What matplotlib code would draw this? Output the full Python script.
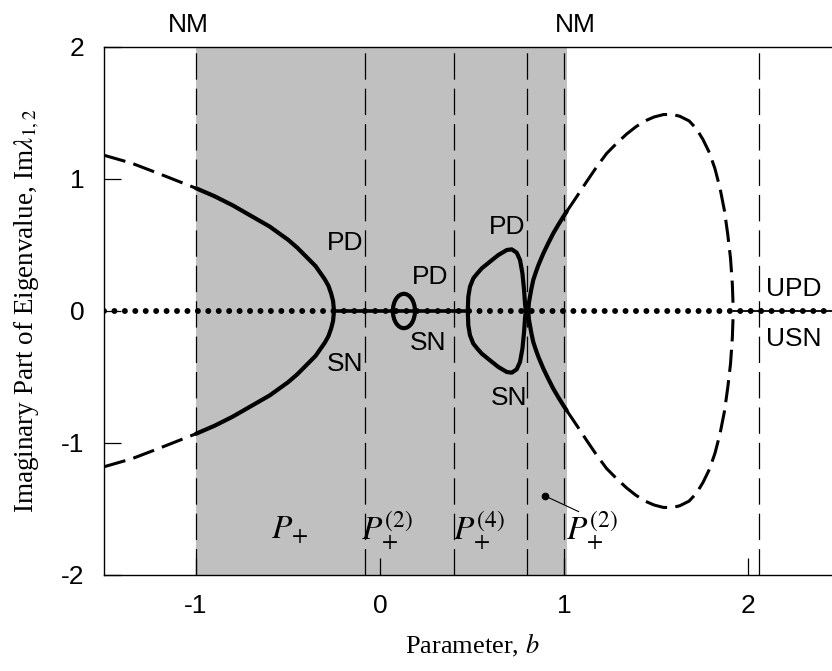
import matplotlib

matplotlib.use("Agg")
import matplotlib.pyplot as plt
from matplotlib.patches import Ellipse
import numpy as np

plt.rcParams.update(
    {
        "font.family": ["Liberation Sans", "DejaVu Sans"],
        "mathtext.fontset": "stix",
        "axes.unicode_minus": False,
        "lines.scale_dashes": False,
        "lines.solid_capstyle": "round",
    }
)

# left branch (upper half), mirrored for the lower half
left_x = [-1.5, -1.35, -1.2, -1.1, -1.0, -0.9, -0.8, -0.7, -0.6, -0.5, -0.45, -0.4, -0.35, -0.32, -0.3, -0.28, -0.265, -0.255, -0.25]
left_y = [1.18, 1.12, 1.04, 0.985, 0.93, 0.87, 0.80, 0.72, 0.64, 0.54, 0.48, 0.41, 0.34, 0.28, 0.24, 0.19, 0.13, 0.075, 0.0]

# small closed loop around b ~ 0.13
ring_center = (0.13, 0.0)
ring_size = (0.12, 0.26)

# P+^(4) loop, upper half
loop_x = [0.477, 0.480, 0.489, 0.507, 0.529, 0.553, 0.598, 0.643, 0.689, 0.716, 0.743, 0.761, 0.774, 0.783, 0.788, 0.792]
loop_y = [0.0, 0.109, 0.184, 0.247, 0.285, 0.323, 0.374, 0.424, 0.462, 0.467, 0.442, 0.386, 0.285, 0.159, 0.058, 0.0]

# right branch: solid part inside the shaded band, dashed afterwards
right_x = [0.806, 0.809, 0.815, 0.823, 0.833, 0.846, 0.861, 0.888, 0.915, 0.942, 0.969, 0.996, 1.014]
right_y = [0.0, 0.06, 0.109, 0.17, 0.235, 0.29, 0.348, 0.437, 0.515, 0.589, 0.653, 0.714, 0.752]
outer_x = [1.014, 1.069, 1.123, 1.178, 1.232, 1.286, 1.34, 1.39, 1.44, 1.49, 1.54, 1.587, 1.63, 1.68, 1.72, 1.755, 1.79, 1.82, 1.848, 1.872, 1.89, 1.905, 1.915, 1.92]
outer_y = [0.752, 0.866, 0.98, 1.093, 1.194, 1.27, 1.34, 1.395, 1.44, 1.47, 1.488, 1.49, 1.475, 1.44, 1.38, 1.30, 1.20, 1.08, 0.93, 0.76, 0.58, 0.40, 0.20, 0.0]

region_edges = [-1.0, 1.015]
boundaries = [-1.0, -0.08, 0.4, 0.8, 1.0, 2.058]
x_ticks = [-1, 0, 1, 2]
y_ticks = [-2, -1, 0, 1, 2]

point_labels = [
    ("PD", -0.19, 0.515), ("SN", -0.19, -0.40),
    ("PD", 0.272, 0.26), ("SN", 0.263, -0.245),
    ("PD", 0.689, 0.634), ("SN", 0.70, -0.66),
    ("UPD", 2.25, 0.17), ("USN", 2.25, -0.21),
]
top_labels = [("NM", -1.04), ("NM", 1.06)]
region_labels = [
    (r"$P_{+}$", -0.49),
    (r"$P_{+}^{(2)}$", 0.04),
    (r"$P_{+}^{(4)}$", 0.54),
    (r"$P_{+}^{(2)}$", 1.15),
]
marker_pt = (0.895, -1.4)

fig = plt.figure(figsize=(8.32, 6.71), dpi=100)
ax = fig.add_axes([104 / 832, 96 / 671, 736 / 832, 528 / 671])
ax.set_xlim(-1.5, 2.5)
ax.set_ylim(-2, 2)

ax.axvspan(*region_edges, color="#c0c0c0", lw=0, zorder=0)
for b in boundaries:
    ax.axvline(b, color="black", lw=0.9, linestyle=(0, (19, 6.5)), zorder=1)

lx = np.array(left_x)
ly = np.array(left_y)
loop_x = np.array(loop_x)
loop_y = np.array(loop_y)
right_x = np.array(right_x)
right_y = np.array(right_y)
outer_x = np.array(outer_x)
outer_y = np.array(outer_y)

solid = dict(color="black", lw=3.0, zorder=4, solid_joinstyle="round")
dashed = dict(color="black", lw=2.2, zorder=4, linestyle=(0, (16, 6)))

# real axis: dots everywhere, solid stretches where the orbit is stable
ax.plot([-1.5, 2.5], [0, 0], color="black", lw=4.3, linestyle=(0, (0.01, 7.5)),
        dash_capstyle="round", zorder=3)
ax.plot([-0.25, 0.477], [0, 0], color="black", lw=2.6, zorder=3)
ax.plot([1.92, 2.5], [0, 0], color="black", lw=1.3, zorder=3)

d = lx <= -1.0
for sgn in (1, -1):
    ax.plot(lx[d], sgn * ly[d], **dashed)
    ax.plot(lx[lx >= -1.0], sgn * ly[lx >= -1.0], **solid)
    ax.plot(right_x, sgn * right_y, **solid)
    ax.plot(outer_x, sgn * outer_y, **dashed)

ax.plot(np.r_[loop_x, loop_x[::-1]], np.r_[loop_y, -loop_y[::-1]], **solid)
ax.add_patch(Ellipse(ring_center, *ring_size, fill=False, lw=3.0, ec="black", zorder=4))

for txt, x, y in point_labels:
    ax.text(x, y, txt, fontsize=19, ha="center", va="center", zorder=5)
for txt, x in top_labels:
    ax.text(x, 2.17, txt, fontsize=19, ha="center", va="center", clip_on=False)
for txt, x in region_labels:
    ax.text(x, -1.66, txt, fontsize=24, ha="center", va="center", zorder=5)

ax.plot(*marker_pt, "o", color="black", ms=4.5, zorder=5)
ax.plot([marker_pt[0], 1.08], [marker_pt[1], -1.52], color="black", lw=0.8, zorder=5)

ax.set_xticks(x_ticks)
ax.set_yticks(y_ticks)
ax.tick_params(direction="in", length=12, width=0.9, labelsize=19, pad=14)
ax.spines["right"].set_visible(False)
for s in ("left", "top", "bottom"):
    ax.spines[s].set_linewidth(1.0)

serif = ["Liberation Serif", "DejaVu Serif"]
ax.set_xlabel(r"Parameter, $b$", fontsize=19, family=serif, labelpad=10)
ax.set_ylabel(r"Imaginary Part of Eigenvalue, Im$\lambda_{1,2}$", fontsize=19.5, family=serif, labelpad=14)

fig.savefig("out.png", dpi=100)
